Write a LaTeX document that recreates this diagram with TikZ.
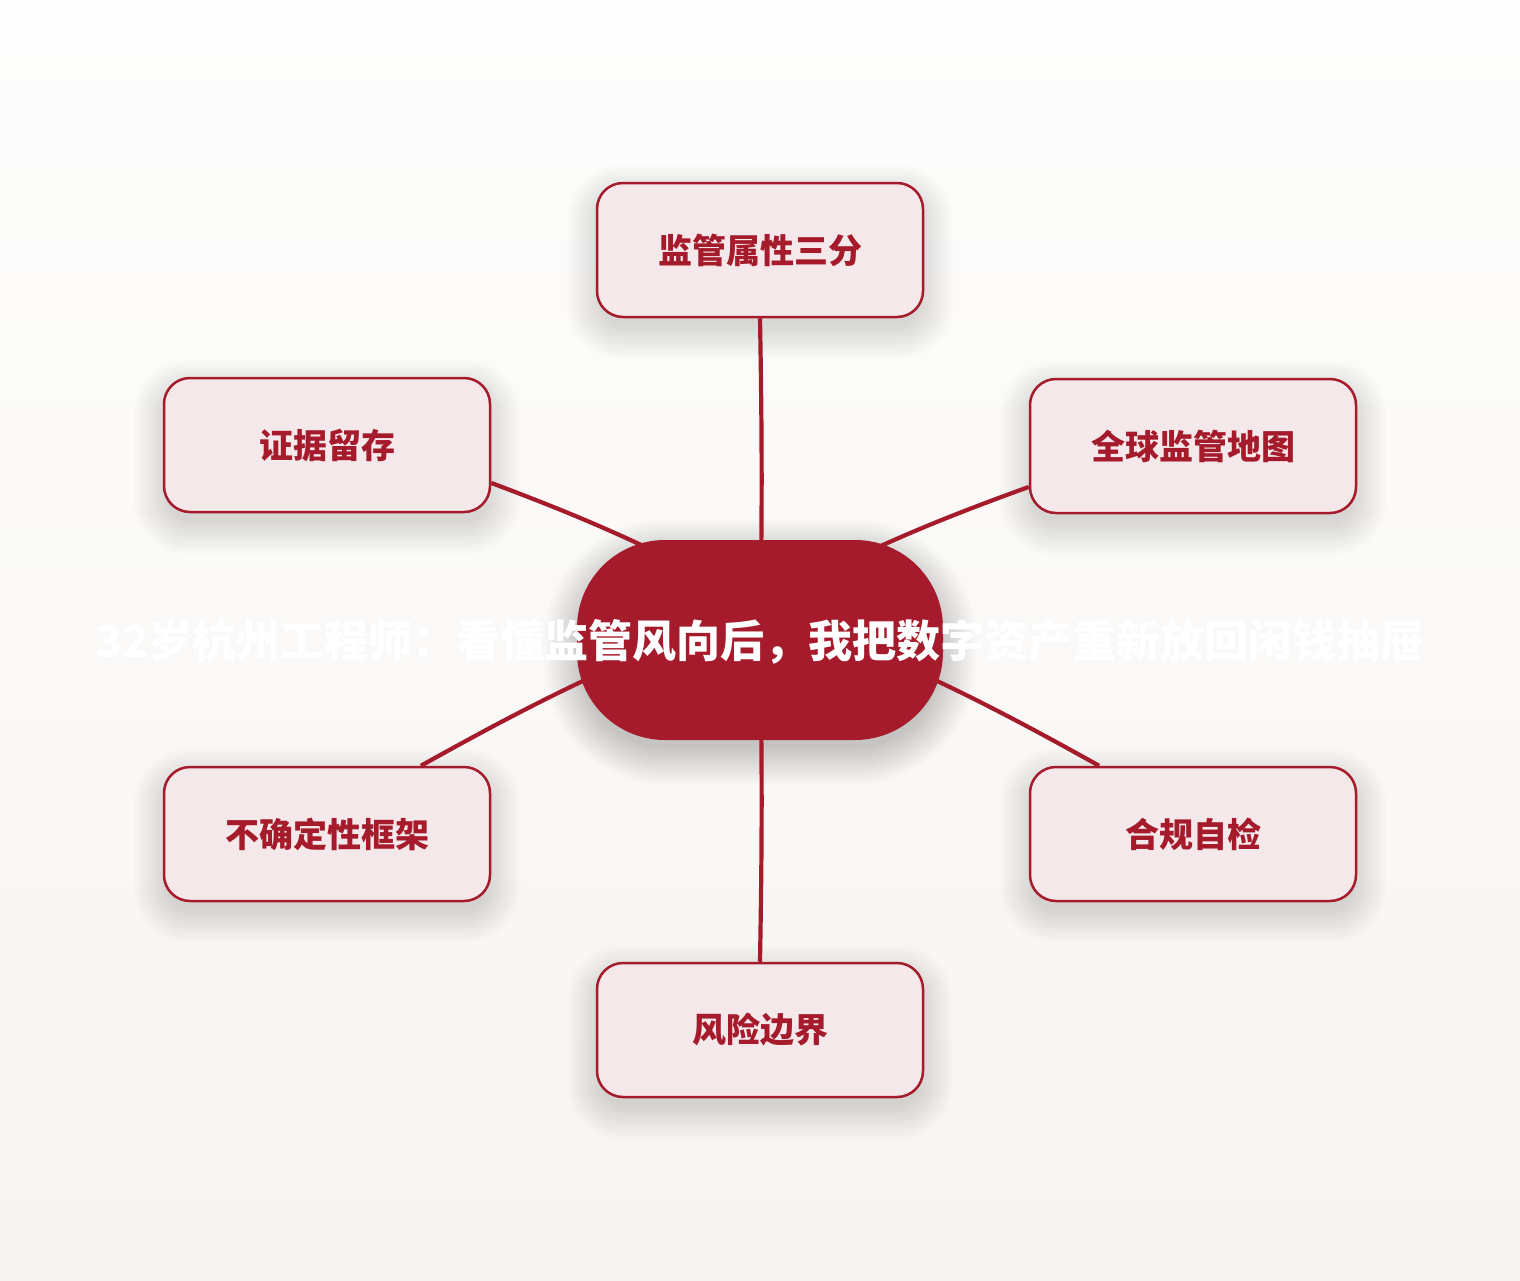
\documentclass[tikz,border=0pt]{standalone}
\usepackage{fontspec}
\newfontfamily\cjk{Noto Sans CJK SC}
\usetikzlibrary{backgrounds}
\pgfdeclarelayer{shadowl}
\pgfdeclarelayer{edgel}
\pgfsetlayers{background,shadowl,edgel,main}
\definecolor{mred}{HTML}{A51B2B}
\definecolor{boxfill}{HTML}{F5E8EB}
\definecolor{bgtop}{HTML}{FDFDFD}
\definecolor{bgbot}{HTML}{F7F5F1}
\tikzset{
  leaf/.style={draw=mred, line width=2.5pt, fill=boxfill, rounded corners=26pt,
    minimum width=326pt, minimum height=134pt, inner sep=0pt,
    font=\cjk\bfseries\fontsize{34}{37}\selectfont, text=mred},
  hub/.style={fill=mred, rounded corners=88pt, minimum width=366pt, minimum height=200pt, inner sep=0pt},
  hubtext/.style={font=\cjk\bfseries\fontsize{44}{48}\selectfont, text=white, inner sep=0pt},
  link/.style={draw=mred, line width=4.2pt},
  softshade/.style={fill=black, opacity=0.012}
}
\begin{document}
\begin{tikzpicture}[x=1pt,y=-1pt]
\begin{scope}[on background layer]
\shade[top color=bgtop, bottom color=bgbot] (0,0) rectangle (1520,1280);
\end{scope}
\useasboundingbox (0,0) rectangle (1520,1280);
\node[hub] (c) at (760,640) {};
\coordinate (hc) at ([yshift=34pt]c.center);
\node[leaf] (t) at (760,250) {监管属性三分};
\node[leaf] (lt) at (327,445) {证据留存};
\node[leaf] (rt) at (1193,446) {全球监管地图};
\node[leaf] (lb) at (327,834) {不确定性框架};
\node[leaf] (rb) at (1193,834) {合规自检};
\node[leaf] (b) at (760,1030) {风险边界};
\node[hubtext] (ct) at (760,642) {32岁杭州工程师：看懂监管风向后，我把数字资产重新放回闲钱抽屉};
\begin{pgfonlayer}{shadowl}
\foreach \n in {t,lt,rt,lb,rb,b}{
  \foreach \e in {-4,-1,...,29}{
    \fill[softshade, rounded corners=26pt+\e pt]
      ([xshift=-\e pt, yshift=-\e pt-12pt]\n.south west) rectangle ([xshift=\e pt, yshift=\e pt-12pt]\n.north east);
  }
}
\foreach \e in {-4,-1,...,32}{
  \fill[softshade, opacity=0.015, rounded corners=88pt+\e pt]
    ([xshift=-\e pt, yshift=-\e pt-12pt]c.south west) rectangle ([xshift=\e pt, yshift=\e pt-12pt]c.north east);
}
\end{pgfonlayer}
\begin{pgfonlayer}{edgel}
\draw[link] (t.south) to[bend left=1] (c.center);
\draw[link] (b.north) to[bend right=1] (c.center);
\draw[link] (lt.-13.5) to[bend left=4] (hc);
\draw[link] (rt.-166.2) to[bend right=4] (hc);
\draw[link] (lb.36.4) to[bend left=4] (hc);
\draw[link] (rb.144.2) to[bend right=4] (hc);
\end{pgfonlayer}
\end{tikzpicture}
\end{document}
